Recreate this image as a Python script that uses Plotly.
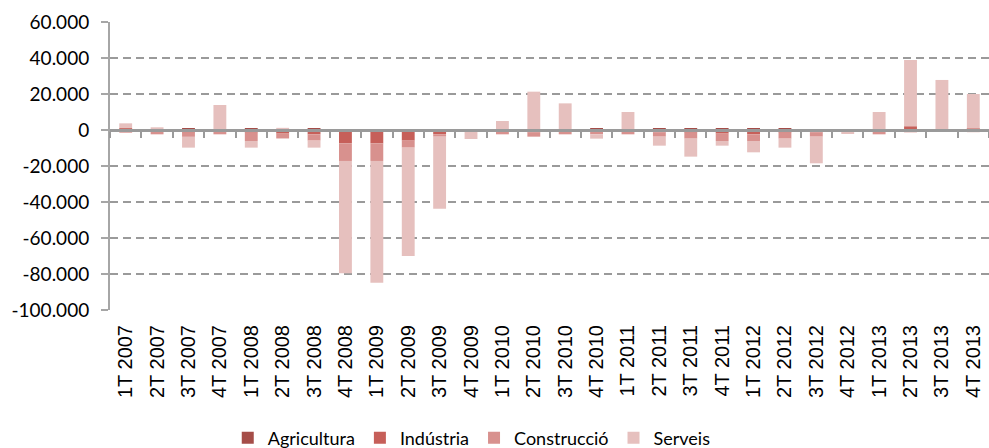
import plotly.graph_objects as go

# Quarterly change in employment by sector
quarters = [
    "1T 2007", "2T 2007", "3T 2007", "4T 2007",
    "1T 2008", "2T 2008", "3T 2008", "4T 2008",
    "1T 2009", "2T 2009", "3T 2009", "4T 2009",
    "1T 2010", "2T 2010", "3T 2010", "4T 2010",
    "1T 2011", "2T 2011", "3T 2011", "4T 2011",
    "1T 2012", "2T 2012", "3T 2012", "4T 2012",
    "1T 2013", "2T 2013", "3T 2013", "4T 2013",
]

agricultura = [0, 0, 800, 0, 800, 0, 900, -500,
               -800, -500, -300, 0, 0, 0, 0, 800,
               0, 800, 800, 800, 800, 800, 0, 0,
               0, 300, 0, 0]
industria = [1000, -1000, -1500, -1000, -1500, -2000, -2400, -6900,
             -6600, -5400, -2100, -1100, -800, -1200, -800, -800,
             -800, -1200, -1500, -2000, -2400, -1500, -1200, -400,
             -800, 1800, -700, 800]
construccio = [-1500, -1400, -2300, -1400, -4600, -2700, -3500, -9800,
               -9800, -3900, -1300, 0, -1600, -2500, -1600, -1600,
               -1600, -2500, -3300, -4100, -3700, -3300, -2500, -800,
               -1600, -1300, -300, -1200]
serveis = [2700, 1500, -6000, 13900, -3700, 1200, -3900, -62400,
           -67600, -60200, -40000, -3900, 5000, 21300, 14800, -2400,
           10000, -5000, -10000, -2600, -6300, -5000, -14800, -1000,
           10000, 36800, 27800, 19200]

series = [
    ("Agricultura", agricultura, "#A54D48"),
    ("Indústria", industria, "#C65F59"),
    ("Construcció", construccio, "#D8918E"),
    ("Serveis", serveis, "#E6C0BE"),
]

y_range = [-100000, 60000]
y_ticks = list(range(-100000, 60001, 20000))
y_labels = [f"{v:,}".replace(",", ".") for v in y_ticks]

fig = go.Figure()
for name, values, color in series:
    fig.add_trace(go.Bar(x=quarters, y=values, name=name,
                         marker=dict(color=color, line=dict(width=0))))

# zero-level axis carrying the category tick marks
fig.add_trace(go.Scatter(x=quarters, y=[0] * len(quarters), xaxis="x2",
                         mode="none", showlegend=False, hoverinfo="skip"))

zero_pos = (0 - y_range[0]) / (y_range[1] - y_range[0])
axis_gray = "#9A9A9A"

fig.update_layout(
    width=989, height=448,
    margin=dict(l=110, r=0, t=22, b=138),
    paper_bgcolor="white", plot_bgcolor="white",
    barmode="relative", bargap=0.59,
    font=dict(family="Lato, sans-serif", size=18, color="#000000"),
    showlegend=True,
    legend=dict(orientation="h", xref="container", yref="container",
                x=0.477, xanchor="center", y=0.022, yanchor="middle",
                font=dict(family="Lato, sans-serif", size=18),
                traceorder="normal", itemwidth=30, tracegroupgap=0),
    xaxis=dict(type="category", categoryorder="array", categoryarray=quarters,
               range=[-0.5, len(quarters) - 0.5], automargin=False,
               showline=False, showgrid=False, ticks="", tickangle=-90,
               ticklabelstandoff=10,
               tickfont=dict(family="Liberation Sans", size=20),
               zeroline=False),
    xaxis2=dict(type="category", categoryorder="array", categoryarray=quarters,
                range=[-0.5, len(quarters) - 0.5], automargin=False,
                overlaying="x", anchor="free", position=zero_pos, side="bottom",
                showline=True, linecolor=axis_gray, linewidth=2.5,
                ticks="outside", tickson="boundaries", ticklen=6, tickwidth=2,
                tickcolor=axis_gray, showticklabels=False, showgrid=False,
                zeroline=False),
    yaxis=dict(range=y_range, tickvals=y_ticks, ticktext=y_labels,
               automargin=False,
               showline=True, linecolor="#A6A6A6", linewidth=2,
               ticks="outside", ticklen=7, tickwidth=2, tickcolor="#A6A6A6",
               ticklabelstandoff=8,
               showgrid=True, gridcolor=axis_gray, gridwidth=2, griddash="8px,5px",
               zeroline=False, tickfont=dict(family="Lato, sans-serif", size=19)),
)

fig.write_html("out.html")
